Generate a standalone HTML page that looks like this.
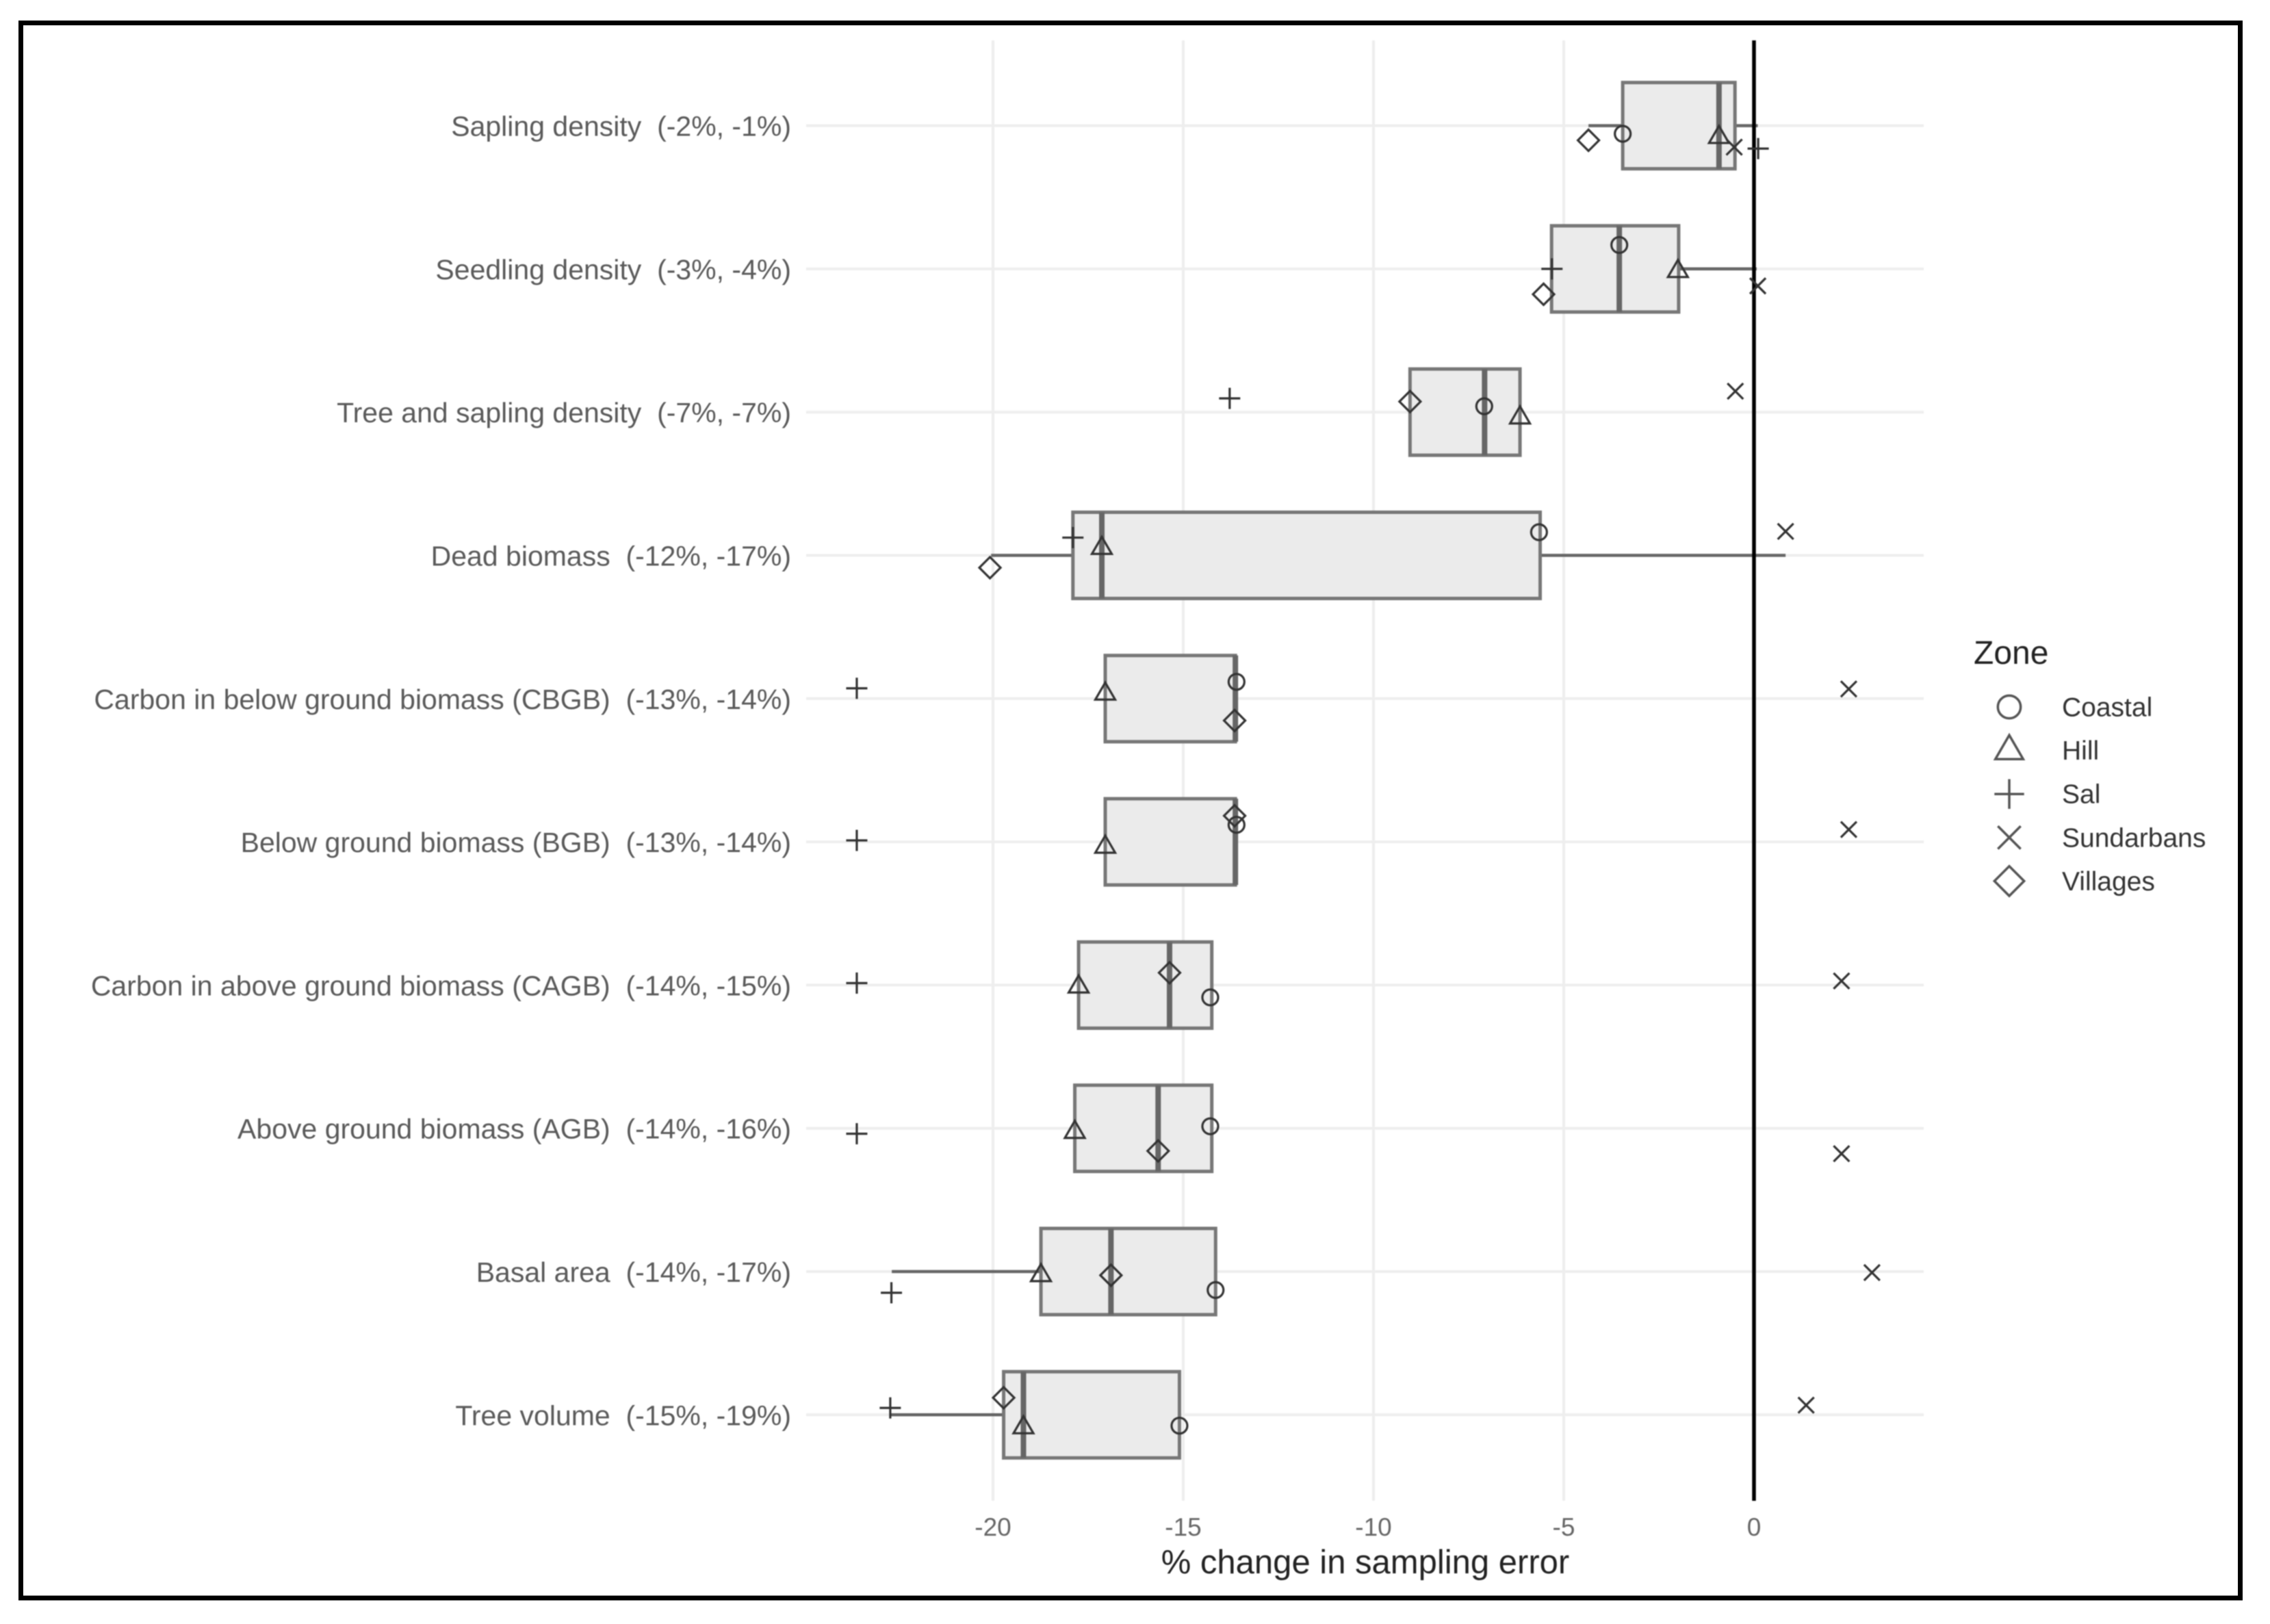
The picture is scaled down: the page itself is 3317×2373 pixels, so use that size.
<!DOCTYPE html>
<html lang="en">
<head>
<meta charset="utf-8">
<title>% change in sampling error by forest attribute and zone</title>
<style>
html,body{margin:0;padding:0;background:#fff;}
svg{display:block;font-family:"Liberation Sans",Arial,sans-serif;}
text{white-space:pre;}
#plot-layer{filter:blur(0.8px);}
</style>
</head>
<body>
<svg id="chart" xmlns="http://www.w3.org/2000/svg" width="3317" height="2373" viewBox="0 0 3317 2373">
  <rect x="0" y="0" width="3317" height="2373" fill="#fff"/>
  <g id="plot-layer"></g>
  <rect x="30.5" y="33.5" width="3243" height="2301.5" fill="none" stroke="#000" stroke-width="7"/>
</svg>
<script>
const categories = [
  "Sapling density  (-2%, -1%)",
  "Seedling density  (-3%, -4%)",
  "Tree and sapling density  (-7%, -7%)",
  "Dead biomass  (-12%, -17%)",
  "Carbon in below ground biomass (CBGB)  (-13%, -14%)",
  "Below ground biomass (BGB)  (-13%, -14%)",
  "Carbon in above ground biomass (CAGB)  (-14%, -15%)",
  "Above ground biomass (AGB)  (-14%, -16%)",
  "Basal area  (-14%, -17%)",
  "Tree volume  (-15%, -19%)"
];
const xTicks = [-20, -15, -10, -5, 0];
const xTickLabels = ["-20", "-15", "-10", "-5", "0"];
const xAxisTitle = "% change in sampling error";
const legendTitle = "Zone";
const zoneNames = ["Coastal", "Hill", "Sal", "Sundarbans", "Villages"];

const q1 = [-3.45, -5.32, -9.04, -17.9, -17.05, -17.05, -17.75, -17.85, -18.74, -19.72];
const median = [-0.92, -3.54, -7.08, -17.14, -13.63, -13.63, -15.36, -15.66, -16.9, -19.2];
const q3 = [-0.5, -1.98, -6.15, -5.62, -13.63, -13.63, -14.25, -14.25, -14.15, -15.1];
const whiskerLow = [-4.35, -5.32, -9.04, -20.05, -17.05, -17.05, -17.75, -17.85, -22.66, -22.7];
const whiskerHigh = [0.1, 0.07, -6.15, 0.83, -13.63, -13.63, -14.25, -14.25, -14.15, -15.1];

const coastal = [-3.45, -3.54, -7.09, -5.65, -13.6, -13.6, -14.29, -14.29, -14.15, -15.1];
const hill = [-0.92, -2.0, -6.15, -17.14, -17.05, -17.05, -17.75, -17.85, -18.74, -19.2];
const sal = [0.11, -5.31, -13.78, -17.9, -23.58, -23.58, -23.58, -23.58, -22.67, -22.7];
const sundarbans = [-0.52, 0.1, -0.49, 0.83, 2.49, 2.49, 2.3, 2.3, 3.1, 1.37];
const villages = [-4.35, -5.53, -9.04, -20.08, -13.65, -13.65, -15.36, -15.66, -16.9, -19.72];

/* vertical jitter of each point, in category-band units */
const coastalJitter = [0.057, -0.167, -0.041, -0.162, -0.117, -0.119, 0.086, -0.014, 0.129, 0.076];
const hillJitter = [0.078, 0.014, 0.036, -0.053, -0.036, 0.033, 0.009, 0.024, 0.024, 0.086];
const salJitter = [0.16, 0, -0.096, -0.124, -0.072, -0.01, -0.014, 0.038, 0.148, -0.048];
const sundarbansJitter = [0.15, 0.119, -0.146, -0.167, -0.067, -0.086, -0.029, 0.177, 0.007, -0.067];
const villagesJitter = [0.102, 0.177, -0.074, 0.086, 0.153, -0.182, -0.086, 0.158, 0.026, -0.119];

const NS = "http://www.w3.org/2000/svg";
const layer = document.getElementById("plot-layer");

function xScale(v) { return 2563 + 55.6 * v; }
function yScale(i) { return 183.6 + 209.3 * i; }

function make(tag, attrs, parent) {
  const el = document.createElementNS(NS, tag);
  for (const k in attrs) el.setAttribute(k, attrs[k]);
  (parent || layer).appendChild(el);
  return el;
}

function drawMarker(shape, cx, cy, s, sw, color) {
  const g = make("g", { fill: "none", stroke: color, "stroke-width": sw });
  if (shape === "circle") {
    make("circle", { cx: cx, cy: cy, r: 11.5 * s }, g);
  } else if (shape === "triangle") {
    make("polygon", { points: (cx - 14.5 * s) + "," + (cy + 9 * s) + " " + (cx + 14.5 * s) + "," + (cy + 9 * s) + " " + cx + "," + (cy - 16 * s) }, g);
  } else if (shape === "plus") {
    make("path", { d: "M" + (cx - 15.5 * s) + " " + cy + "H" + (cx + 15.5 * s) + "M" + cx + " " + (cy - 15.5 * s) + "V" + (cy + 15.5 * s) }, g);
  } else if (shape === "cross") {
    const r = 11.5 * s;
    make("path", { d: "M" + (cx - r) + " " + (cy - r) + "L" + (cx + r) + " " + (cy + r) + "M" + (cx - r) + " " + (cy + r) + "L" + (cx + r) + " " + (cy - r) }, g);
  } else {
    const r = 15.5 * s;
    make("polygon", { points: (cx - r) + "," + cy + " " + cx + "," + (cy - r) + " " + (cx + r) + "," + cy + " " + cx + "," + (cy + r) }, g);
  }
  return g;
}

/* horizontal gridlines */
categories.forEach(function (c, i) {
  const line = make("line", { x1: 1178, x2: 2811, y1: yScale(i), y2: yScale(i), stroke: "#eeeeee", "stroke-width": 4 });
  
  
});

/* vertical gridlines and tick labels */
xTicks.forEach(function (t, i) {
  if (t !== 0) {
    const grid = make("line", { x1: xScale(t), x2: xScale(t), y1: 59, y2: 2193, stroke: "#eeeeee", "stroke-width": 4 });
    
    
  }
  const label = make("text", { x: xScale(t), y: 2244, "text-anchor": "middle", "font-size": 37, fill: "#666666" });
  label.textContent = xTickLabels[i];
  
  
});

/* category labels */
categories.forEach(function (c, i) {
  const label = make("text", { x: 1156, y: yScale(i) + 15, "text-anchor": "end", "font-size": 41, fill: "#5a5a5a" });
  label.textContent = c;
  
  
});

/* boxes */
categories.forEach(function (c, i) {
  const y = yScale(i);
  const whisker = make("path", {
    d: "M" + xScale(whiskerLow[i]) + " " + y + "H" + xScale(q1[i]) + "M" + xScale(q3[i]) + " " + y + "H" + xScale(whiskerHigh[i]),
    stroke: "#666666", "stroke-width": 4.5, fill: "none"
  });
  
  
  const box = make("rect", {
    x: xScale(q1[i]), y: y - 63, width: xScale(q3[i]) - xScale(q1[i]), height: 126,
    fill: "#ebebeb", stroke: "#777777", "stroke-width": 5
  });
  
  
  const med = make("line", {
    x1: xScale(median[i]), x2: xScale(median[i]), y1: y - 63, y2: y + 63,
    stroke: "#666666", "stroke-width": 8
  });
  
  
});

/* zero reference line */
const zeroLine = make("line", { x1: xScale(0), x2: xScale(0), y1: 59, y2: 2193, stroke: "#000000", "stroke-width": 5.5 });



/* points */
function drawSeries(values, jitter, shape) {
  values.forEach(function (v, i) {
    const m = drawMarker(shape, xScale(v), yScale(i + jitter[i]), 1, 3.2, "#333333");
    
    
  });
}
drawSeries(coastal, coastalJitter, "circle");
drawSeries(hill, hillJitter, "triangle");
drawSeries(sal, salJitter, "plus");
drawSeries(sundarbans, sundarbansJitter, "cross");
drawSeries(villages, villagesJitter, "diamond");

/* axis title */
const xTitle = make("text", { x: 1995, y: 2299, "text-anchor": "middle", "font-size": 49, fill: "#222222" });
xTitle.textContent = xAxisTitle;



/* legend */
const legendTitleEl = make("text", { x: 2884, y: 970, "font-size": 48, fill: "#222222" });
legendTitleEl.textContent = legendTitle;



const legendShapes = ["circle", "triangle", "plus", "cross", "diamond"];
zoneNames.forEach(function (name, i) {
  const cy = 1033 + 63.6 * i;
  const icon = drawMarker(legendShapes[i], 2936, cy, i === 0 ? 1.45 : (i === 3 ? 1.45 : 1.4), 3.5, "#555555");
  
  
  const label = make("text", { x: 3013, y: cy + 13.5, "font-size": 39, fill: "#333333" });
  label.textContent = name;
  
  
});
</script>
</body>
</html>
